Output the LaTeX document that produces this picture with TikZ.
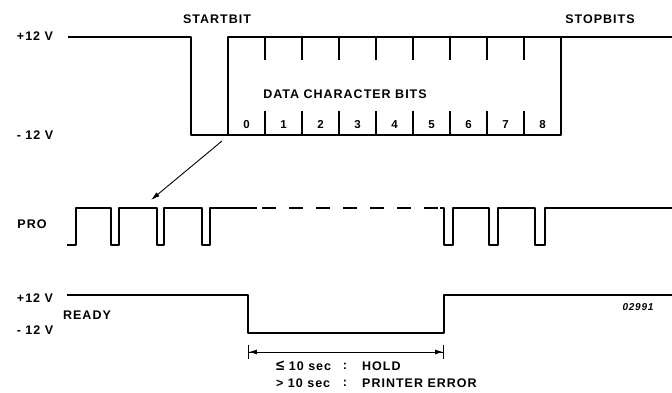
\documentclass[tikz,border=0pt]{standalone}
\usepackage{fontspec}
\setmainfont{Liberation Sans}[LetterSpace=8]
\usetikzlibrary{arrows.meta,positioning}

\begin{document}
\begin{tikzpicture}[x=1pt,y=-1pt,
    wave/.style={line width=1.6pt,line join=round},
    thin/.style={line width=0.9pt},
    lbl/.style={inner sep=0pt,font=\fontsize{12.5}{13}\selectfont\bfseries},
    bitno/.style={inner sep=0pt,anchor=base,font=\fontsize{11.5}{12}\selectfont\bfseries}]
   \useasboundingbox (0,0) rectangle (672,393);
   % level labels
   \node[lbl] (hiA) at (35,36) {+12 V};
   \node[lbl] (loA) at (35,135) {- 12 V};
   \node[lbl] (start) at (217,19) {STARTBIT};
   \node[lbl] (stop) at (600,19) {STOPBITS};
   \node[lbl] (data) at (345,94) {DATA CHARACTER BITS};
   \node[lbl] (pro) at (32,224) {PRO};
   \node[lbl] (hiB) at (35,298) {+12 V};
   \node[lbl] (ready) at (87,315) {READY};
   \node[lbl] (loB) at (35,330) {- 12 V};
   \node[inner sep=0pt,font=\fontsize{10}{10}\selectfont\bfseries\itshape] (code) at (638,307) {02991};
   % serial character
   \draw[wave] (68,37) -- (191,37) -- (191,135) -- (561,135) -- (561,37);
   \draw[wave] (228,135) -- (228,37) -- (672,37);
   \foreach \i in {1,...,8}
      \draw[wave] (228+37*\i,37) -- ++(0,23) (228+37*\i,111) -- (228+37*\i,135);
   \foreach \i in {0,...,8}
      \node[bitno] (bit\i) at (246.5+37*\i,128.5) {\i};
   \coordinate (from) at (222,141);
   \coordinate (to) at (151,200);
   \draw[thin,-{Latex[length=9pt,width=5pt]}] (from) -- (to);
   % PRO signal
   \draw[wave] (67,245) -- (76,245) -- (76,208) -- (111,208) -- (111,245) -- (119,245)
      -- (119,208) -- (157,208) -- (157,245) -- (164,245) -- (164,208) -- (202,208)
      -- (202,245) -- (210,245) -- (210,208) -- (257,208);
   \draw[wave,dash pattern=on 14pt off 13pt] (262,208) -- (442,208);
   \draw[wave] (440,208) -- (444,208) -- (444,245) -- (453,245) -- (453,208) -- (489,208)
      -- (489,245) -- (498,245) -- (498,208) -- (535,208) -- (535,245) -- (545,245)
      -- (545,208) -- (672,208);
   % READY signal
   \draw[wave] (67,295) -- (248,295) -- (248,333) -- (444,333) -- (444,295) -- (672,295);
   \coordinate (holdL) at (248,352);
   \coordinate (holdR) at (444,352);
   \draw[thin,{Bar[width=14pt]Latex[length=8pt,width=5pt]}-{Latex[length=8pt,width=5pt]Bar[width=14pt]}] (holdL) -- (holdR);
   \node[lbl,anchor=west] (le) at (276,366) {{\fontsize{15}{15}\selectfont ≤} 10 sec};
   \node[lbl] (c1) at (345,366) {:};
   \node[lbl,anchor=west] (hold) at (362,366) {HOLD};
   \node[lbl,anchor=west] (gt) at (276,383) {> 10 sec};
   \node[lbl] (c2) at (345,383) {:};
   \node[lbl,anchor=west] (err) at (362,383) {PRINTER ERROR};
\end{tikzpicture}
\end{document}
